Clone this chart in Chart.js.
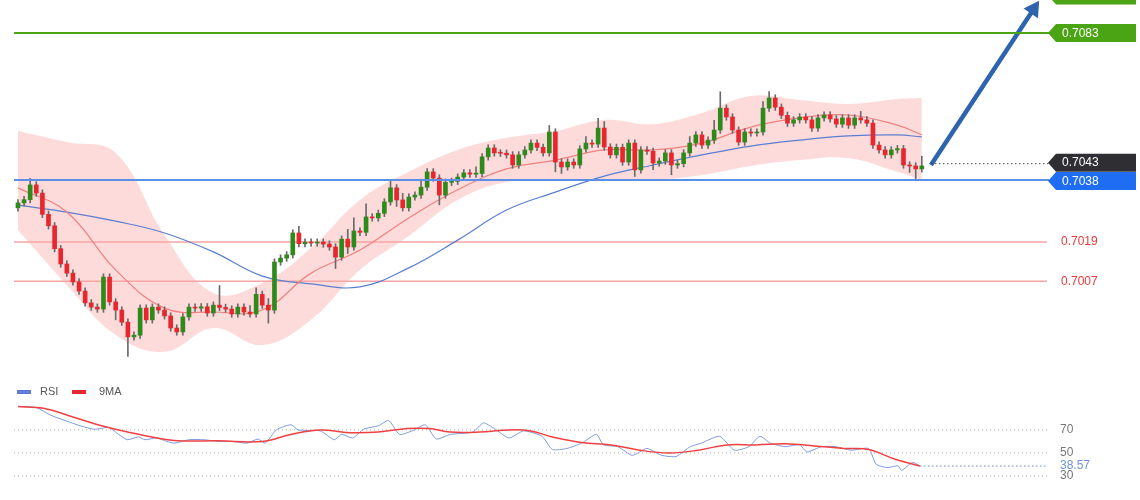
<!DOCTYPE html>
<html><head><meta charset="utf-8">
<script src="https://cdn.jsdelivr.net/npm/chart.js@4.4.1/dist/chart.umd.min.js"></script>
<style>
html,body{margin:0;padding:0;background:#fff;width:1140px;height:500px;overflow:hidden;font-family:"Liberation Sans",Arial,sans-serif}
#main{position:absolute;left:0;top:0}
#rsi{position:absolute;left:0;top:380px}
</style></head><body>
<canvas id="main" width="1140" height="362"></canvas>
<canvas id="rsi" width="1140" height="120"></canvas>
<script>
// ---- data (prices in pips above 0.7000) ----
const BASE = 0.7, PIP = 0.0001;
const firstOpenPips = 29.5;
const closePips = [31,32,36.5,34,27.5,24,17,12.3,9.5,6.8,4,0.4,-0.9,-1.5,8.3,0.7,-1.8,-5.5,-10,-9.5,-1.2,-4.8,-0.9,-1.8,-3.6,-7.3,-8.5,-3.9,-0.9,-1.2,-0.8,-2.7,-0.3,-1.0,-1.5,-3,-0.9,-2.4,-3,3,-0.3,-1.8,12.9,14.1,15.1,21.8,18.5,19,18.7,19,18.4,17.5,14.4,19.9,17.5,22.4,22,26.7,26.4,27.8,31.3,35.6,31.9,29.5,32.8,33.4,35.8,40.5,38.6,33.4,37.3,37.6,38.9,40.2,39.8,40,45.1,47.8,46.3,46.2,45.7,42.6,45.7,47.2,49.3,48,46.3,52.7,43.5,42,43.5,42.6,47.5,49.3,49,53.9,48.1,45.7,48,43.5,49.3,41.1,47.2,46.8,43.2,43.8,46.3,42.6,43,46.3,49.3,51.8,48.7,50.2,53.3,60,57.3,53.3,49.6,52.7,52.4,52.7,60,63.1,60.3,57.8,55.4,56.4,57.3,56.4,53.9,57,57.9,56.7,55.1,57,54.8,57,56.4,55.4,48.7,47.2,45.7,47.2,47.6,42.6,42.3,41.4,42.3];
const wickUpPips = [1,1,2,1,1,1,1,1,1,1, 1,1,1,1,1,1,1,1,1,1, 1,1,1,1,1,1,1,1,1,1, 1,1,1,6,1,1,1,1,2,2, 1,2,1,1,1,1,2,1,1,1, 1,1,1,1,3,4,1,4,1,1, 1,2,1,2,1,1,2,1,1,1, 1,1,1,1,1,2,1,1,1,1, 1,1,1,1,1,1,1,2,1,1, 1,1,1,2,1,3,2,1,1,1, 1,1,1,1,1,1,1,1,1,1, 2,1,1,1,3,5,1,1,1,1, 1,1,2,2,1,1,1,1,1,1, 1,1,1,1,1,1,1,1,2,1, 1,1,1,1,1,1,1,1,3];
const wickDnPips = [1,1,1,1,1,1,1,1,1,1, 1,1,1,1,1,1,3,1,6,1, 1,1,1,1,1,1,1,1,1,1, 1,1,1,1,1,1,1,1,1,1, 1,4,1,1,1,1,1,1,1,1, 1,1,3.5,1,2,1,1,1,1,1, 1,1,2,1,1,1,1,1,1,3, 1,1,1,1,1,1,1,1,1,1, 1,1,1,1,1,1,1,1,3,2, 1,1,1,1,1,1,1,1,1,1, 1,2,1,1,2,1,1,3,1,1, 1,1,1,1,1,1,1,1,1,1, 1,1,1,1,1,1,1,1,1,1, 1,1,1,1,1,1,1,1,1,1, 1,1,1,1,1,1,2,3,1];
const bandIdx   = [0,8,16,24,32,40,48,56,64,72,80,88,96,104,112,120,128,136,144,148];
const bandUpper = [53.0,49.6,46.3,21.2,3.4,6.5,17.2,31.9,40.5,47.2,50.9,53.0,56.4,55.1,58.5,63.7,62.5,61.3,62.8,63.1];
const bandLower = [22.7,5.9,-9.4,-14.6,-7.3,-12.5,-4.8,10.5,20.9,31.9,37.4,38.0,38.0,38.0,39.5,42.3,44.1,44.7,40.5,38.0];
const maRed     = [35.6,28.2,10.5,-1.2,-2.4,-1.8,9.5,16.6,26.4,35.0,41.4,44.1,47.2,47.2,49.3,54.2,57.0,57.9,54.8,51.8];
const maBlue    = [30.3,28.2,25.4,21.8,16.0,8.6,6.2,5.3,11.1,19.6,28.8,34.3,39.2,42.6,45.7,48.4,50.2,51.5,51.8,51.2];
const levelTarget = 0.7083, levelSupport = 0.7038, levelRed1 = 0.7019, levelRed2 = 0.7007, lastPrice = 0.7043;
const arrowIdx = [149.5, 166.3];
const arrowPrice = [0.70426, 0.70903];

const rsiIdx = [0,3,5.4,7.7,10.2,12.5,14.9,16.1,17.9,19.7,20.8,22.7,24.4,25.6,28,30.4,32.8,35.1,37.5,39.3,40.5,42.3,44.7,45.9,49.5,51.8,53,54.8,56.6,59,60.7,62.5,64.9,66.7,68.5,70.8,74.5,76.2,78,80.4,82.8,85.8,87.5,89.9,92.3,94.7,95.9,98.2,100.6,103,105.4,107.8,110.1,111.9,114.9,117.3,119.7,121.5,123.2,125.6,128,129.2,131.6,133.9,136.4,139.3,140.5,142.3,144.1,144.7,146.5,147.7];
const rsiVal = [90.3,89.4,82.7,78.2,73.6,70.6,72.1,67.6,61.5,63.9,61.5,63,60,58.5,61.5,61.5,60,60,58.5,62.1,58.5,70,74.5,70,69.1,61.5,66.1,63,70.6,73.6,78.2,66.1,70,74.5,62.1,66.1,68.2,76.1,71.2,63,69.1,64.5,53,53.9,58.5,66.1,57,55.5,47.9,53.9,47.9,47,55.5,58.5,64.5,52.4,55.5,64.5,58.5,55.5,57,50.9,55.5,55.5,52.4,53.9,40.3,37.3,38.8,34.8,41.8,38.6];
const maIdx = [0,4.2,9.0,13.7,18.5,25.6,32.8,40,44.7,49.5,54.3,59,63.7,67.3,70.8,75.6,80.4,84,87.5,92.3,97.1,101.8,106.6,111.4,116.1,120.9,125.6,130.4,135.2,139.3,143.5,147.7];
const maVal = [90.3,88.8,81.2,73.6,67.6,60.9,60.6,60,66.1,70,67.6,68.2,71.2,71.2,68.2,68.2,70,69.1,63.9,59.1,57,52.4,50,52.4,57,57,57.9,56.1,53.9,53,44.8,38.6];
const rsiLevels = [70,50,30];
const rsiLast = 38.57;

// ---- build ----
const P = p => BASE + p * PIP;
const opens = closePips.map((c,i)=> i===0 ? firstOpenPips : closePips[i-1]);
const bodies = closePips.map((c,i)=>({x:i, y:[P(opens[i]), P(c)]}));
const wicks = closePips.map((c,i)=>({x:i, y:[P(Math.min(opens[i],c)-wickDnPips[i]), P(Math.max(opens[i],c)+wickUpPips[i])]}));
const bodyCol = closePips.map((c,i)=> c>=opens[i] ? '#2f8a1c' : '#e8262d');
const pts = arr => arr.map((v,k)=>({x:bandIdx[k], y:P(v)}));
const XMIN=-0.65, XMAX=168.5;

const overlay = {
  id:'overlay',
  beforeDatasetsDraw(ch){
    const {ctx, chartArea:a, scales:{y}} = ch;
    ctx.save();
    const hl=(v,c,w)=>{const yy=y.getPixelForValue(v);ctx.strokeStyle=c;ctx.lineWidth=w;ctx.beginPath();ctx.moveTo(a.left,yy);ctx.lineTo(a.right,yy);ctx.stroke();};
    hl(levelRed1,'#f6a3a3',1.5); hl(levelRed2,'#f6a3a3',1.5);
    ctx.restore();
  },
  afterDatasetsDraw(ch){
    const {ctx, chartArea:a, scales:{x,y}} = ch;
    ctx.save();
    const hl=(v,c,w)=>{const yy=y.getPixelForValue(v);ctx.strokeStyle=c;ctx.lineWidth=w;ctx.beginPath();ctx.moveTo(a.left,yy);ctx.lineTo(a.right+2,yy);ctx.stroke();};
    hl(levelTarget,'#4ba414',2); hl(levelSupport,'#5c8fe8',2);
    const ly=y.getPixelForValue(lastPrice);
    ctx.setLineDash([1.5,2.5]);ctx.strokeStyle='#444';ctx.lineWidth=1;
    ctx.beginPath();ctx.moveTo(x.getPixelForValue(arrowIdx[0]),ly);ctx.lineTo(a.right+2,ly);ctx.stroke();
    ctx.setLineDash([]);
    const tag=(v,bg,txt,dy)=>{const yy=y.getPixelForValue(v)+(dy||0);const L=a.right+1;ctx.fillStyle=bg;ctx.beginPath();
      ctx.moveTo(L,yy);ctx.lineTo(L+8,yy-9);ctx.lineTo(1136,yy-9);ctx.lineTo(1136,yy+9);ctx.lineTo(L+8,yy+9);ctx.closePath();ctx.fill();
      ctx.fillStyle='#fff';ctx.font='12px "Liberation Sans",Arial';ctx.textBaseline='middle';ctx.fillText(txt,L+14,yy+0.5);};
    tag(0.70945,'#4ba414','');
    tag(levelTarget,'#4ba414',levelTarget.toFixed(4));
    tag(lastPrice,'#2f2f33',lastPrice.toFixed(4),-1);
    tag(levelSupport,'#1f6df2',levelSupport.toFixed(4),1);
    ctx.fillStyle='#e83a3a';ctx.font='12px "Liberation Sans",Arial';ctx.textBaseline='middle';
    [levelRed1,levelRed2].forEach(v=>ctx.fillText(v.toFixed(4),a.right+14,y.getPixelForValue(v)));
    ctx.restore();
  }
};

new Chart(document.getElementById('main'),{
  type:'bar',
  data:{datasets:[
    {type:'line',data:pts(bandUpper),borderWidth:0,pointRadius:0,fill:'+1',backgroundColor:'rgba(250,170,170,0.42)',tension:0.4,order:9},
    {type:'line',data:pts(bandLower),borderWidth:0,pointRadius:0,fill:false,tension:0.4,order:9},
    {type:'line',data:pts(maRed),borderColor:'#f28080',borderWidth:1.2,pointRadius:0,tension:0.4,order:8},
    {type:'line',data:pts(maBlue),borderColor:'#5b7fd0',borderWidth:1.2,pointRadius:0,tension:0.4,order:8},
    {data:wicks,backgroundColor:'#6a6a6a',barThickness:1,grouped:false,order:4},
    {data:bodies,backgroundColor:bodyCol,barThickness:4,grouped:false,minBarLength:1,order:3},
    {type:'line',data:arrowIdx.map((v,k)=>({x:v,y:arrowPrice[k]})),borderColor:'#2e63ad',borderWidth:4.5,
     pointRadius:[0,10],pointStyle:'triangle',rotation:34,pointBackgroundColor:'#2e63ad',pointBorderWidth:0,order:1,clip:false}
  ]},
  options:{responsive:false,animation:false,events:[],
    layout:{autoPadding:false,padding:{left:14,right:93,top:0,bottom:0}},
    plugins:{legend:{display:false},tooltip:{enabled:false}},
    scales:{
      x:{type:'linear',min:XMIN,max:XMAX,display:false,offset:false},
      y:{min:P(-17.7),max:P(93.1),display:false}
    }},
  plugins:[overlay]
});

const rsiPlug = {
  id:'rsiPlug',
  beforeDatasetsDraw(ch){
    const {ctx, chartArea:a, scales:{y}} = ch;
    ctx.save();ctx.setLineDash([1,3]);ctx.strokeStyle='#aaa';ctx.lineWidth=1;
    rsiLevels.forEach(v=>{const yy=y.getPixelForValue(v);ctx.beginPath();ctx.moveTo(a.left,yy);ctx.lineTo(a.right,yy);ctx.stroke();});
    ctx.setLineDash([]);
    ctx.font='12px "Liberation Sans",Arial';ctx.textBaseline='middle';ctx.fillStyle='#777';
    rsiLevels.forEach(v=>ctx.fillText(String(v),a.right+13,y.getPixelForValue(v)));
    ctx.font='11px "Liberation Sans",Arial';
    ctx.fillStyle='#5b7fd8';ctx.fillRect(17,10,14,4);
    ctx.fillStyle='#555';ctx.fillText('RSI',40,12);
    ctx.fillStyle='#e8262d';ctx.fillRect(72,10,14,4);
    ctx.fillStyle='#555';ctx.fillText('9MA',99,12);
    ctx.restore();
  },
  afterDatasetsDraw(ch){
    const {ctx, chartArea:a, scales:{x,y}} = ch;
    ctx.save();
    const yy=y.getPixelForValue(rsiLast);
    ctx.setLineDash([1.5,2.5]);ctx.strokeStyle='#6f92dc';ctx.lineWidth=1;
    ctx.beginPath();ctx.moveTo(x.getPixelForValue(rsiIdx[rsiIdx.length-1]),yy);ctx.lineTo(a.right,yy);ctx.stroke();
    ctx.setLineDash([]);ctx.fillStyle='#6f92dc';ctx.font='12px "Liberation Sans",Arial';ctx.textBaseline='middle';
    ctx.fillText(rsiLast.toFixed(2),a.right+13,yy);
    ctx.restore();
  }
};

new Chart(document.getElementById('rsi'),{
  type:'line',
  data:{datasets:[
    {data:rsiIdx.map((v,k)=>({x:v,y:rsiVal[k]})),borderColor:'#7d9be0',borderWidth:1,pointRadius:0,tension:0.2,order:2},
    {data:maIdx.map((v,k)=>({x:v,y:maVal[k]})),borderColor:'#f04040',borderWidth:1.5,pointRadius:0,tension:0.4,order:1}
  ]},
  options:{responsive:false,animation:false,events:[],
    layout:{autoPadding:false,padding:{left:14,right:93,top:20,bottom:10}},
    plugins:{legend:{display:false},tooltip:{enabled:false}},
    scales:{x:{type:'linear',min:XMIN,max:XMAX,display:false},y:{min:17.8,max:96,display:false}}},
  plugins:[rsiPlug]
});
</script></body></html>
